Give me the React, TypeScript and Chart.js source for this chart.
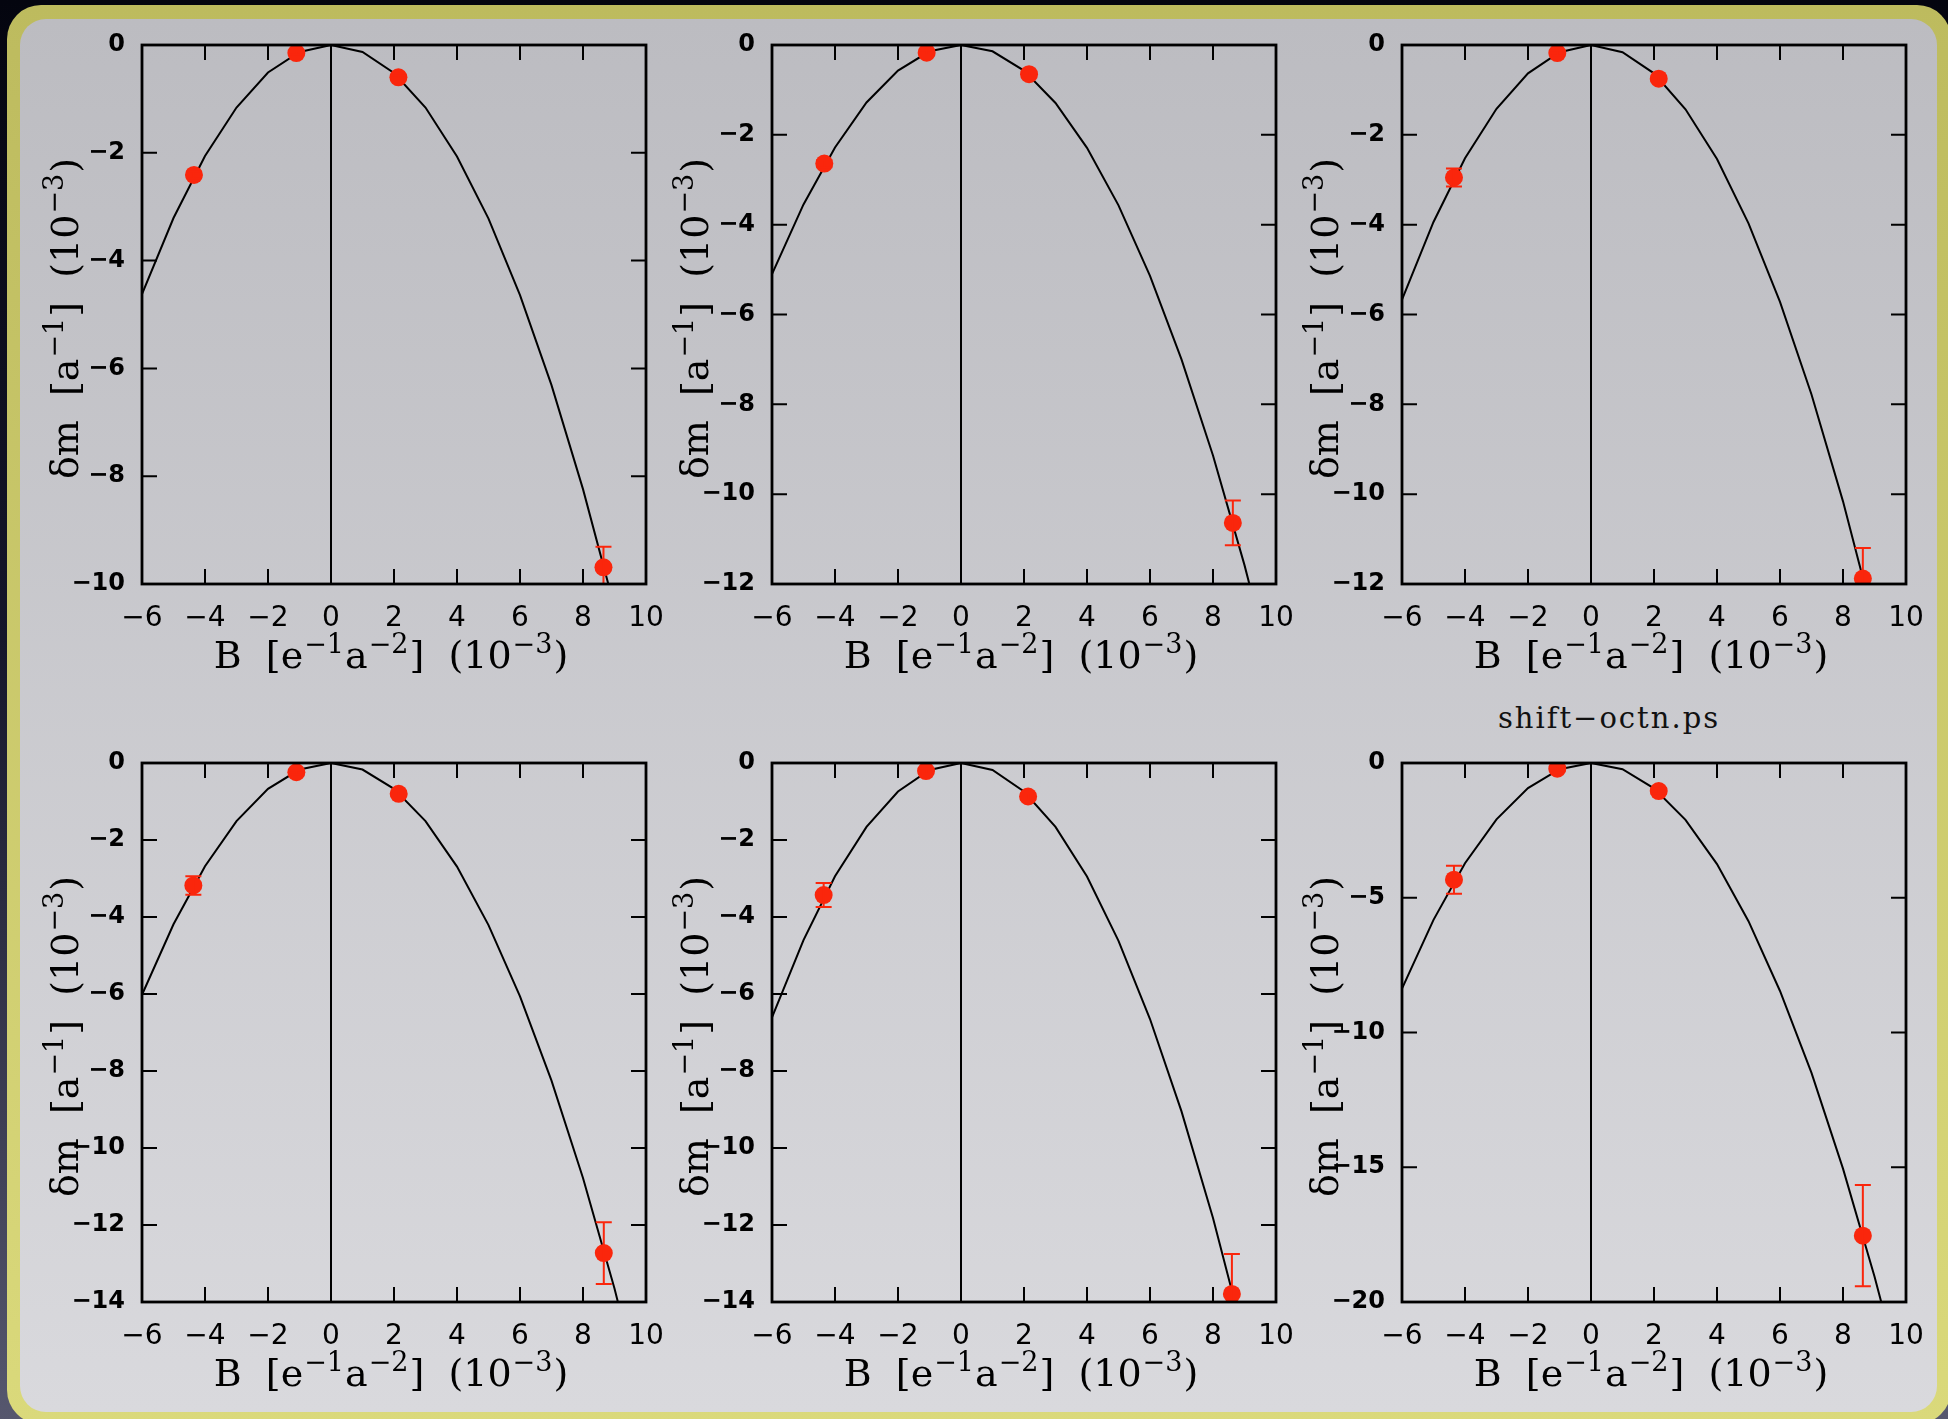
import React, { useEffect, useRef } from "react";
import { Chart, registerables } from "chart.js";

Chart.register(...registerables);

// ---------- data ----------
const B_NODES = [-6, -5, -4, -3, -2, -1, 0, 1, 2, 3, 4, 5, 6, 7, 8, 9, 10];

const FIT_1 = [-4.62, -3.21, -2.06, -1.16, -0.51, -0.13, 0, -0.13, -0.52, -1.16, -2.07, -3.22, -4.64, -6.31, -8.24, -10.43, -12.9];
const FIT_2 = [-5.1, -3.55, -2.28, -1.28, -0.57, -0.14, 0, -0.14, -0.57, -1.29, -2.29, -3.57, -5.14, -7.0, -9.14, -11.58, -14.3];
const FIT_3 = [-5.67, -3.94, -2.52, -1.42, -0.63, -0.16, 0, -0.16, -0.63, -1.43, -2.54, -3.97, -5.72, -7.78, -10.16, -12.86, -15.9];
const FIT_4 = [-6.02, -4.19, -2.68, -1.51, -0.67, -0.17, 0, -0.17, -0.67, -1.51, -2.69, -4.21, -6.06, -8.25, -10.78, -13.65, -16.9];
const FIT_5 = [-6.61, -4.6, -2.94, -1.66, -0.74, -0.18, 0, -0.18, -0.74, -1.66, -2.95, -4.62, -6.65, -9.05, -11.82, -14.97, -18.5];
const FIT_6 = [-8.37, -5.82, -3.72, -2.09, -0.93, -0.23, 0, -0.23, -0.94, -2.11, -3.75, -5.87, -8.46, -11.5, -15.05, -19.05, -23.5];

const PTS_B_1 = [-4.35, -1.1, 2.14, 8.65];
const PTS_DM_1 = [-2.41, -0.15, -0.6, -9.69];
const PTS_ERR_1 = [0.06, 0.03, 0.03, 0.38];

const PTS_B_2 = [-4.34, -1.09, 2.16, 8.63];
const PTS_DM_2 = [-2.64, -0.17, -0.65, -10.64];
const PTS_ERR_2 = [0.08, 0.04, 0.04, 0.5];

const PTS_B_3 = [-4.35, -1.07, 2.15, 8.63];
const PTS_DM_3 = [-2.95, -0.18, -0.75, -11.88];
const PTS_ERR_3 = [0.2, 0.05, 0.05, 0.68];

const PTS_B_4 = [-4.37, -1.1, 2.15, 8.66];
const PTS_DM_4 = [-3.18, -0.24, -0.8, -12.73];
const PTS_ERR_4 = [0.24, 0.05, 0.06, 0.8];

const PTS_B_5 = [-4.36, -1.11, 2.13, 8.6];
const PTS_DM_5 = [-3.43, -0.21, -0.87, -13.79];
const PTS_ERR_5 = [0.31, 0.06, 0.08, 1.04];

const PTS_B_6 = [-4.35, -1.07, 2.15, 8.63];
const PTS_DM_6 = [-4.33, -0.21, -1.04, -17.54];
const PTS_ERR_6 = [0.52, 0.08, 0.1, 1.88];

const X_TICKS = [-6, -4, -2, 0, 2, 4, 6, 8, 10];
const Y_MIN = [-10, -12, -12, -14, -14, -20];
const Y_STEP = [2, 2, 2, 2, 2, 5];

// axis titles: [text, isSuperscript]
const X_TITLE_PARTS: [string, number][] = [
  ["B  [e", 0],
  ["\u22121", 1],
  ["a", 0],
  ["\u22122", 1],
  ["]  (10", 0],
  ["\u22123", 1],
  [")", 0],
];
const Y_TITLE_PARTS: [string, number][] = [
  ["\u03B4m  [a", 0],
  ["\u22121", 1],
  ["]  (10", 0],
  ["\u22123", 1],
  [")", 0],
];
const FILE_LABEL = "shift\u2212octn.ps";

const FITS = [FIT_1, FIT_2, FIT_3, FIT_4, FIT_5, FIT_6];
const PB = [PTS_B_1, PTS_B_2, PTS_B_3, PTS_B_4, PTS_B_5, PTS_B_6];
const PD = [PTS_DM_1, PTS_DM_2, PTS_DM_3, PTS_DM_4, PTS_DM_5, PTS_DM_6];
const PE = [PTS_ERR_1, PTS_ERR_2, PTS_ERR_3, PTS_ERR_4, PTS_ERR_5, PTS_ERR_6];

// ---------- layout ----------
const COL_LEFT = [142, 772, 1402];
const ROW_TOP = [44.5, 763];
const PLOT_W = 504;
const PLOT_H = 539;
const LW = 130;
const BH = 100;
const PAD_T = 25;
const PAD_R = 40;

const RED = "rgb(250,38,12)";
const X_TICK_FONT = { family: "'DejaVu Sans', sans-serif", size: 28 };
const Y_TICK_FONT = { family: "'DejaVu Sans', sans-serif", size: 24, weight: "bold" };
const MAIN_FONT = "38px 'DejaVu Serif', serif";
const SUP_FONT = "27px 'DejaVu Serif', serif";

const fmt = (v: number) => (v < 0 ? "\u2212" + Math.abs(v) : String(v));

function drawRich(ctx: CanvasRenderingContext2D, parts: [string, number][], cx: number, cy: number, rot: boolean) {
  ctx.save();
  ctx.fillStyle = "#000";
  ctx.textAlign = "left";
  ctx.textBaseline = "alphabetic";
  const widths = parts.map(([t, s]) => {
    ctx.font = s ? SUP_FONT : MAIN_FONT;
    return ctx.measureText(t).width + (s ? 2 : 0);
  });
  const total = widths.reduce((a, b) => a + b, 0);
  ctx.translate(cx, cy);
  if (rot) ctx.rotate(-Math.PI / 2);
  let x = -total / 2;
  parts.forEach(([t, s], i) => {
    ctx.font = s ? SUP_FONT : MAIN_FONT;
    ctx.fillText(t, x + (s ? 1 : 0), s ? -15 : 0);
    x += widths[i];
  });
  ctx.restore();
}

const axisTitles = {
  id: "axisTitles",
  afterDraw(chart: any) {
    const { ctx, chartArea: a } = chart;
    drawRich(ctx, X_TITLE_PARTS, (a.left + a.right) / 2 - 3, a.bottom + 84, false);
    drawRich(ctx, Y_TITLE_PARTS, a.left - 64, (a.top + a.bottom) / 2 + 4, true);
  },
};

const frameTicks = {
  id: "frameTicks",
  afterDraw(chart: any) {
    const { ctx, chartArea: a, scales } = chart;
    const L = 15;
    ctx.save();
    ctx.strokeStyle = "#000";
    ctx.lineWidth = 2;
    ctx.beginPath();
    scales.x.ticks.forEach((t: any) => {
      if (t.value <= scales.x.min || t.value >= scales.x.max) return;
      const px = scales.x.getPixelForValue(t.value);
      ctx.moveTo(px, a.bottom);
      ctx.lineTo(px, a.bottom - L);
      ctx.moveTo(px, a.top);
      ctx.lineTo(px, a.top + L);
    });
    scales.y.ticks.forEach((t: any) => {
      if (t.value <= scales.y.min || t.value >= scales.y.max) return;
      const py = scales.y.getPixelForValue(t.value);
      ctx.moveTo(a.left, py);
      ctx.lineTo(a.left + L, py);
      ctx.moveTo(a.right, py);
      ctx.lineTo(a.right - L, py);
    });
    ctx.stroke();
    ctx.lineWidth = 2.8;
    ctx.strokeRect(a.left, a.top, a.right - a.left, a.bottom - a.top);
    ctx.restore();
  },
};

const errorBars = {
  id: "errorBars",
  afterDatasetsDraw(chart: any) {
    const { ctx, chartArea: a, scales } = chart;
    ctx.save();
    ctx.beginPath();
    ctx.rect(a.left, a.top, a.right - a.left, a.bottom - a.top);
    ctx.clip();
    ctx.strokeStyle = RED;
    ctx.lineWidth = 2;
    chart.data.datasets.forEach((ds: any) => {
      if (!ds.errors) return;
      ds.data.forEach((p: any, i: number) => {
        const e = ds.errors[i];
        const x = scales.x.getPixelForValue(p.x);
        const y1 = scales.y.getPixelForValue(p.y + e);
        const y2 = scales.y.getPixelForValue(p.y - e);
        ctx.beginPath();
        ctx.moveTo(x, y1);
        ctx.lineTo(x, y2);
        ctx.moveTo(x - 8, y1);
        ctx.lineTo(x + 8, y1);
        ctx.moveTo(x - 8, y2);
        ctx.lineTo(x + 8, y2);
        ctx.stroke();
      });
    });
    ctx.restore();
  },
};

function Panel({ idx }: { idx: number }) {
  const ref = useRef<HTMLCanvasElement>(null);
  const col = idx % 3;
  const row = Math.floor(idx / 3);
  const left = COL_LEFT[col] - LW;
  const top = ROW_TOP[row] - PAD_T;
  const width = LW + PLOT_W + PAD_R;
  const height = PAD_T + PLOT_H + BH;

  useEffect(() => {
    const yMin = Y_MIN[idx];
    const chart = new Chart(ref.current as HTMLCanvasElement, {
      type: "scatter",
      data: {
        datasets: [
          {
            data: PB[idx].map((b, i) => ({ x: b, y: PD[idx][i] })),
            errors: PE[idx],
            pointRadius: 9,
            pointBackgroundColor: RED,
            pointBorderWidth: 0,
            showLine: false,
            order: 0,
          } as any,
          {
            data: B_NODES.map((b, i) => ({ x: b, y: FITS[idx][i] })),
            showLine: true,
            borderColor: "#000",
            borderWidth: 2,
            pointRadius: 0,
            tension: 0,
            order: 1,
          },
          {
            data: [
              { x: 0, y: yMin },
              { x: 0, y: 0 },
            ],
            showLine: true,
            borderColor: "#000",
            borderWidth: 2,
            pointRadius: 0,
            order: 2,
          },
        ],
      },
      options: {
        animation: false,
        responsive: false,
        maintainAspectRatio: false,
        layout: { padding: { top: PAD_T, right: PAD_R, left: 0, bottom: 0 } },
        plugins: { legend: { display: false }, tooltip: { enabled: false } },
        scales: {
          x: {
            type: "linear",
            min: -6,
            max: 10,
            afterBuildTicks: (s: any) => {
              s.ticks = X_TICKS.map((v) => ({ value: v }));
            },
            afterFit: (s: any) => {
              s.height = BH;
            },
            grid: { display: false },
            border: { display: false },
            ticks: {
              font: X_TICK_FONT,
              color: "#000",
              padding: 10,
              maxRotation: 0,
              autoSkip: false,
              callback: (v: any) => fmt(Number(v)),
            },
            title: { display: false },
          },
          y: {
            type: "linear",
            min: yMin,
            max: 0,
            afterFit: (s: any) => {
              s.width = LW;
            },
            grid: { display: false },
            border: { display: false },
            ticks: {
              stepSize: Y_STEP[idx],
              font: Y_TICK_FONT,
              color: "#000",
              padding: 9,
              callback: (v: any) => fmt(Number(v)),
            },
            title: { display: false },
          },
        },
      },
      plugins: [frameTicks, errorBars, axisTitles],
    } as any);
    return () => chart.destroy();
  }, [idx]);

  return (
    <canvas
      ref={ref}
      width={width}
      height={height}
      style={{ position: "absolute", left, top, width, height }}
    />
  );
}

export default function App() {
  return (
    <div
      style={{
        position: "fixed",
        left: 0,
        top: 0,
        width: 1948,
        height: 1419,
        overflow: "hidden",
        background: "linear-gradient(to bottom, #04050f 0%, #15162a 45%, #56576e 100%)",
      }}
    >
      <div
        style={{
          position: "absolute",
          left: 7,
          top: 5,
          width: 1944,
          height: 1419,
          borderRadius: 34,
          background: "linear-gradient(to bottom, #bdbb5e 0%, #dad97b 100%)",
        }}
      />
      <div
        style={{
          position: "absolute",
          left: 20,
          top: 19,
          width: 1917,
          height: 1393,
          borderRadius: 26,
          background: "linear-gradient(to bottom, #bcbcc1 0%, #d9d9dd 100%)",
        }}
      />
      <div
        style={{
          position: "absolute",
          left: 1609,
          top: 701,
          transform: "translateX(-50%)",
          fontFamily: "'DejaVu Serif', serif",
          fontSize: 29,
          letterSpacing: 2,
          lineHeight: "34px",
          color: "#111",
          whiteSpace: "nowrap",
        }}
      >
        {FILE_LABEL}
      </div>
      {[0, 1, 2, 3, 4, 5].map((i) => (
        <Panel key={i} idx={i} />
      ))}
    </div>
  );
}
